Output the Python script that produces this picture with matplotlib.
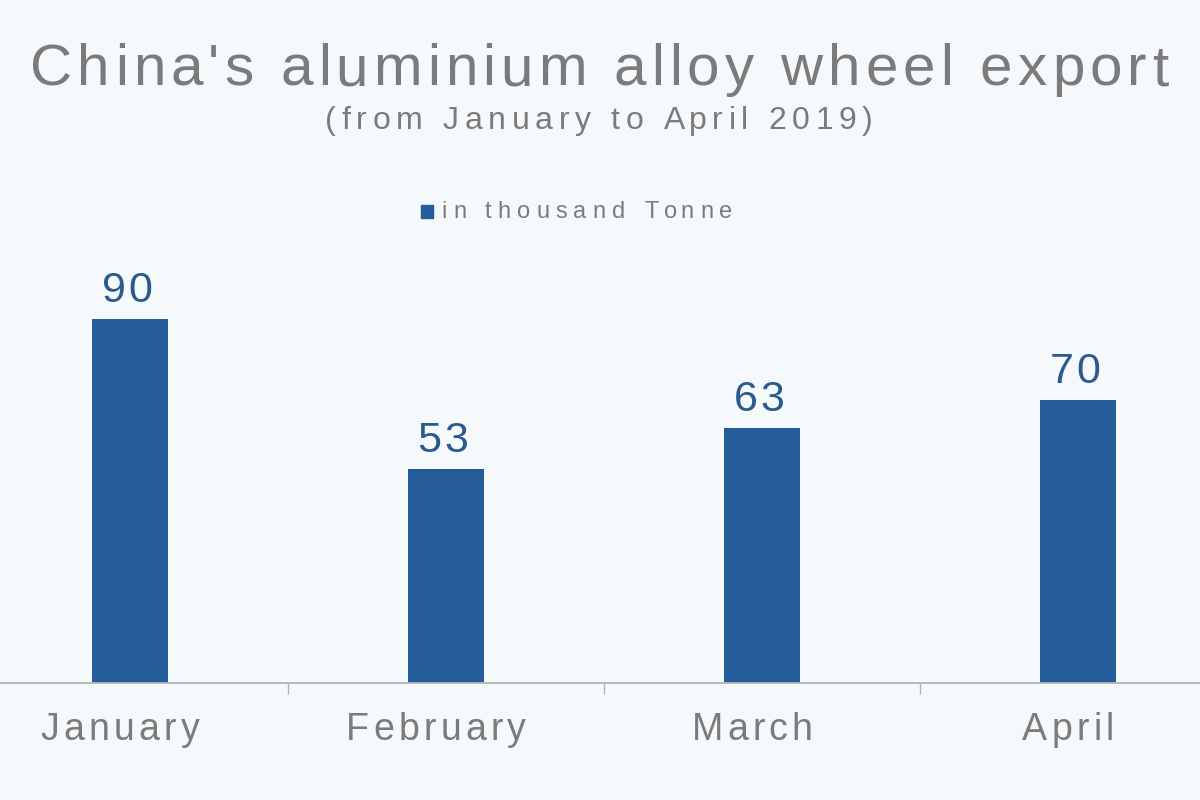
import matplotlib
matplotlib.use("Agg")
import matplotlib.pyplot as plt
from matplotlib.font_manager import FontProperties

months = ["January", "February", "March", "April"]
export_kt = [90, 53, 63, 70]
title = "China's aluminium alloy wheel export"
subtitle = "(from January to April 2019)"
legend_label = "in thousand Tonne"

bg = "#f6f9fc"
bar_blue = "#245b99"
label_blue = "#2a5a8e"
grey_txt = "#7b7b7b"

W, H = 1200, 800
fig = plt.figure(figsize=(12, 8), dpi=100, facecolor=bg)

# axes a bit wider than the figure so the outer categories are clipped like the original
ax = fig.add_axes([-28 / W, (H - 683) / H, 1264 / W, 404 / H])
ax.set_facecolor("none")
x = list(range(len(months)))
ax.bar(x, export_kt, width=0.24, color=bar_blue, zorder=2)
ax.set_xlim(-0.5, len(months) - 0.5)
ax.set_ylim(0, 100)
for s in ["top", "right", "left"]:
    ax.spines[s].set_visible(False)
ax.spines["bottom"].set_color("#b4b4b4")
ax.spines["bottom"].set_linewidth(1.3)
ax.set_yticks([])
ax.set_xticks([i + 0.5 for i in x[:-1]])
ax.set_xticklabels([])
ax.tick_params(axis="x", length=8, width=1, color="#b4b4b4", direction="out")

renderer = fig.canvas.get_renderer()


def text_w(s, fp):
    # width incl. trailing spaces: measure with a bar appended
    a = renderer.get_text_width_height_descent(s + "|", fp, ismath=False)[0]
    b = renderer.get_text_width_height_descent("|", fp, ismath=False)[0]
    return a - b


def spaced(xc, ybase, s, size, color, track=None, target=None):
    # draw text centred on xc (pixels) with extra letter spacing
    fp = FontProperties(family="Liberation Sans", size=size)
    base = text_w(s, fp)
    if target is not None:
        track = (target - base) / (len(s) - 1)
    total = base + track * (len(s) - 1)
    x0 = xc - total / 2
    for i, ch in enumerate(s):
        if ch == " ":
            continue
        px = x0 + text_w(s[:i], fp) + i * track
        fig.text(px / W, 1 - ybase / H, ch, fontproperties=fp, color=color,
                 ha="left", va="baseline")
    return x0


spaced(599, 85, title, 42, grey_txt, target=1138)
spaced(599, 129, subtitle, 23, grey_txt, target=548)

# legend: square marker + spaced label
lx = spaced(587, 218, legend_label, 17, grey_txt, target=291)
fig.patches.append(plt.Rectangle(((lx - 21) / W, 1 - 218 / H), 13 / W, 13 / H,
                                 transform=fig.transFigure, color=bar_blue))

for i, v in enumerate(export_kt):
    cx, top = ax.transData.transform((i, v))
    spaced(cx - 3, H - top - 17, str(v), 31, label_blue, track=3)
    cx, _ = ax.transData.transform((i, 0))
    spaced(cx - 10, 740, months[i], 27, grey_txt, track=4.2)

fig.savefig("out.png", dpi=100, facecolor=bg)
